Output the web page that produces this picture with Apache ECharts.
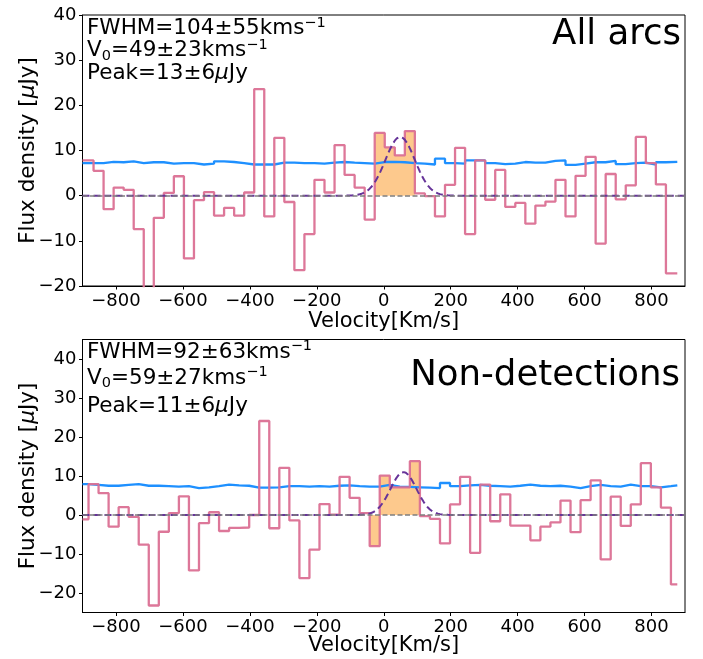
<!DOCTYPE html>
<html><head><meta charset="utf-8">
<script src="https://cdn.jsdelivr.net/npm/echarts@6/dist/echarts.min.js"></script>
<style>html,body{margin:0;padding:0;background:#fff}#c{width:703px;height:659px}</style>
</head><body><div id="c"></div>
<script>
// ---------- data ----------
const velTicks = [-800, -600, -400, -200, 0, 200, 400, 600, 800];
const fluxTicks = [-20, -10, 0, 10, 20, 30, 40];

// Panel 1: All arcs (channel edges in km/s, flux & rms in uJy)
const allArcsEdges = [-900, -867, -837, -807, -777, -747, -717, -687, -657, -627, -597, -567, -537, -507, -477, -447, -417, -387, -357, -327, -297, -267, -237, -207, -177, -147, -117, -87, -57, -27, 3, 33, 63, 93, 123, 153, 183, 213, 243, 273, 303, 333, 363, 393, 423, 453, 483, 513, 543, 573, 603, 633, 663, 693, 723, 753, 783, 813, 843, 877];
const allArcsFlux = [7.8, 5.5, -3.0, 1.8, 1.3, -7.4, -24, -4.9, 0.6, 4.3, -13.9, -1.0, 0.8, -4.4, -2.7, -4.4, 0.7, 23.6, -4.6, 12.8, -1.4, -16.5, -8.5, 3.5, 0.7, 11.2, 4.6, 1.8, -5.3, 13.9, 10.7, 8.9, 14.3, 0.5, -0.1, -4.6, 2.4, 10.6, -8.5, 7.8, -0.9, 5.7, -2.5, -1.6, -6.2, -2.2, -1.3, 3.5, -4.6, 4.4, 8.6, -10.6, 4.8, -0.8, 2.3, 13.0, 7.2, 2.5, -17.2];
const allArcsRms = [7.2, 7.2, 7.5, 7.4, 7.6, 7.2, 7.4, 7.4, 7.1, 7.2, 7.2, 6.9, 7.1, 7.6, 7.45, 7.2, 6.9, 6.9, 6.9, 7.3, 7.3, 7.2, 7.2, 7.1, 7.3, 7.45, 7.3, 7.2, 7.1, 7.45, 7.5, 7.4, 7.2, 7.1, 6.9, 8.2, 7.2, 7.1, 7.8, 7.8, 7.2, 7.0, 7.1, 7.45, 7.3, 7.3, 7.7, 7.8, 6.8, 7.1, 7.4, 7.4, 7.7, 7.0, 7.2, 7.3, 6.9, 7.4, 7.5];
const allArcsLineRange = [-27, 93];
const allArcsFit = [104, 49, 13]; // FWHM, V0, peak

// Panel 2: Non-detections
const nonDetEdges = [-900, -882, -852, -822, -792, -762, -732, -702, -672, -642, -612, -582, -552, -522, -492, -462, -432, -402, -372, -342, -312, -282, -252, -222, -192, -162, -132, -102, -72, -42, -12, 18, 48, 78, 108, 138, 168, 198, 228, 258, 288, 318, 348, 378, 408, 438, 468, 498, 528, 558, 588, 618, 648, 678, 708, 738, 768, 798, 828, 858, 877];
const nonDetFlux = [-1.1, 7.9, 5.6, -3.0, 2.0, -0.5, -7.6, -23.2, -4.3, 0.5, 4.8, -14.2, -2.1, 0.7, -4.1, -3.3, -3.2, 0.0, 24.1, -3.4, 12.1, -1.4, -16.2, -8.9, 2.8, 0.1, 9.8, 4.4, 0.5, -8.0, 10.1, 7.1, 7.1, 13.8, -0.3, -1.0, -7.3, 2.7, 9.8, -9.7, 7.8, -1.6, 5.3, -2.7, -2.7, -6.5, -3.0, -1.9, 3.7, -4.4, 3.8, 8.9, -11.4, 4.7, -2.8, 2.7, 13.3, 7.1, 1.9, -17.8];
const nonDetRms = [7.9, 7.7, 7.5, 7.5, 7.7, 7.9, 7.5, 7.5, 7.4, 7.3, 7.4, 6.9, 7.1, 7.4, 7.8, 7.6, 7.5, 7.0, 7.0, 7.1, 7.4, 7.4, 7.3, 7.4, 7.3, 7.5, 7.6, 7.4, 7.3, 7.3, 7.7, 7.3, 7.2, 7.1, 7.0, 6.9, 8.2, 7.4, 7.6, 7.7, 7.5, 7.4, 7.3, 7.5, 7.8, 7.5, 7.4, 7.5, 7.3, 6.9, 7.4, 7.7, 7.4, 7.3, 7.8, 7.4, 7.4, 7.1, 7.4, 7.6];
const nonDetLineRange = [-42, 108];
const nonDetFit = [92, 59, 11];

// ---------- helpers ----------
const FONT = 'DejaVu Sans';
function stepPairs(edges, vals, range) {
  const out = [];
  for (let i = 0; i < vals.length; i++) {
    const a = edges[i], b = edges[i + 1];
    if (range && (a < range[0] - 1 || b > range[1] + 1)) continue;
    out.push([a, vals[i]], [b, vals[i]]);
  }
  return out;
}
function gaussPts(fit) {
  const s = fit[0] / 2.3548, pts = [];
  for (let v = -900; v <= 900; v += 3) pts.push([v, fit[2] * Math.exp(-0.5 * Math.pow((v - fit[1]) / s, 2))]);
  return pts;
}
const minusFmt = v => String(v).replace('-', '\u2212');

function xAxisCfg(i, gap) {
  return {
    type: 'value', gridIndex: i, min: -900, max: 900,
    axisLine: { show: true, onZero: false, lineStyle: { color: '#000', width: 1 } },
    axisTick: { show: true, customValues: velTicks, length: 3.5, lineStyle: { color: '#000', width: 1 } },
    axisLabel: { customValues: velTicks, formatter: minusFmt, fontSize: 18, color: '#000', margin: 6, fontFamily: FONT },
    splitLine: { show: false },
    name: 'Velocity[Km/s]', nameLocation: 'middle', nameGap: gap, nameMoveOverlap: false,
    nameTextStyle: { fontSize: 21, color: '#000', fontFamily: FONT }
  };
}
function yAxisCfg(i, min, max) {
  return {
    type: 'value', gridIndex: i, min: min, max: max,
    axisLine: { show: true, onZero: false, lineStyle: { color: '#000', width: 1 } },
    axisTick: { show: true, customValues: fluxTicks, length: 3.5, lineStyle: { color: '#000', width: 1 } },
    axisLabel: { customValues: fluxTicks, formatter: minusFmt, fontSize: 18, color: '#000', margin: 6, fontFamily: FONT },
    splitLine: { show: false },
    name: '{a|Flux density [}{i|\u03bc}{a|Jy]}', nameLocation: 'middle', nameGap: 43, nameRotate: 90, nameMoveOverlap: false,
    nameTextStyle: { fontSize: 21.5, color: '#000', fontFamily: FONT,
      rich: { a: { fontSize: 21.5, fontFamily: FONT, color: '#000' }, i: { fontSize: 21.5, fontFamily: FONT, fontStyle: 'italic', color: '#000' } } }
  };
}
function panelSeries(i, edges, flux, rms, range, fit) {
  return [
    { type: 'line', xAxisIndex: i, yAxisIndex: i, data: stepPairs(edges, flux, range), showSymbol: false, symbol: 'none',
      lineStyle: { width: 0 }, areaStyle: { color: '#fdc98d', opacity: 1, origin: 0 }, z: 1, silent: true },
    { type: 'line', xAxisIndex: i, yAxisIndex: i, data: stepPairs(edges, rms), showSymbol: false, symbol: 'none',
      lineStyle: { color: '#1e90ff', width: 2.3 }, z: 2, silent: true },
    { type: 'line', xAxisIndex: i, yAxisIndex: i, data: stepPairs(edges, flux), showSymbol: false, symbol: 'none',
      lineStyle: { color: '#db7093', width: 2.3, opacity: 0.95 }, z: 3, silent: true,
      markLine: { silent: true, symbol: 'none', label: { show: false }, animation: false,
        lineStyle: { color: '#7f7f7f', type: [5, 2.5], width: 1.5 }, data: [{ yAxis: 0 }] } },
    { type: 'line', xAxisIndex: i, yAxisIndex: i, data: gaussPts(fit), showSymbol: false, symbol: 'none',
      lineStyle: { color: '#663399', width: 2, type: [7, 4] }, z: 4, silent: true }
  ];
}
const rich = {
  m: { fontSize: 21.5, fontFamily: FONT, lineHeight: 26, color: '#000' },
  s: { fontSize: 14.5, fontFamily: FONT, lineHeight: 12, verticalAlign: 'top', color: '#000' },
  b: { fontSize: 14.5, fontFamily: FONT, lineHeight: 14, verticalAlign: 'bottom', color: '#000' },
  mu: { fontSize: 21.5, fontFamily: FONT, lineHeight: 26, fontStyle: 'italic', color: '#000' },
  t: { fontSize: 35.5, fontFamily: FONT, lineHeight: 42, color: '#000' }
};
function txt(x, y, text, align) {
  return { type: 'text', x: x, y: y, z: 10, silent: true,
    style: { text: text, rich: rich, align: align || 'left', textAlign: align || 'left', verticalAlign: 'top', textVerticalAlign: 'top' } };
}
function annot(x, y0, y1, y2, fit, peakErr, fwErr, v0Err) {
  return [
    txt(x, y0, '{m|FWHM=' + fit[0] + '\u00b1' + fwErr + 'kms}{s|\u22121}'),
    txt(x, y1, '{m|V}{b|0}{m|=' + fit[1] + '\u00b1' + v0Err + 'kms}{s|\u22121}'),
    txt(x, y2, '{m|Peak=' + fit[2] + '\u00b1' + peakErr + '}{mu|\u03bc}{m|Jy}')
  ];
}

const chart = echarts.init(document.getElementById('c'), null, { renderer: 'canvas' });
chart.setOption({
  animation: false,
  backgroundColor: '#fff',
  textStyle: { fontFamily: FONT },
  grid: [
    { left: 82.5, right: 18, top: 15, height: 271, show: true, borderColor: '#000', borderWidth: 1, backgroundColor: 'transparent', containLabel: false, outerBoundsMode: 'none' },
    { left: 82.5, right: 18, top: 339.5, height: 273, show: true, borderColor: '#000', borderWidth: 1, backgroundColor: 'transparent', containLabel: false, outerBoundsMode: 'none' }
  ],
  xAxis: [xAxisCfg(0, 25), xAxisCfg(1, 22.5)],
  yAxis: [yAxisCfg(0, -20, 40), yAxisCfg(1, -25, 45)],
  series: [].concat(
    panelSeries(0, allArcsEdges, allArcsFlux, allArcsRms, allArcsLineRange, allArcsFit),
    panelSeries(1, nonDetEdges, nonDetFlux, nonDetRms, nonDetLineRange, nonDetFit)
  ),
  graphic: [].concat(
    annot(87, 15.6, 37.9, 60.6, allArcsFit, 6, 55, 23),
    annot(87, 339, 365, 393.6, nonDetFit, 6, 63, 27),
    [txt(681, 13.5, '{t|All arcs}', 'right'), txt(680, 355, '{t|Non-detections}', 'right')]
  )
});
</script></body></html>
